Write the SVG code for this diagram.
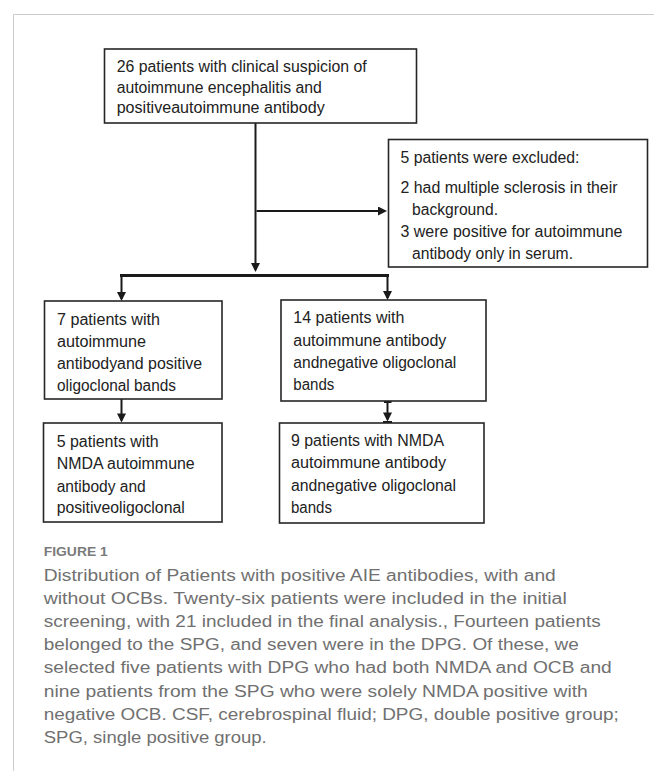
<svg xmlns="http://www.w3.org/2000/svg" width="654" height="771" viewBox="0 0 654 771">
<style>
.frame{fill:none;stroke:#cccccc;stroke-width:1}
.box{fill:#ffffff;stroke:#262626;stroke-width:1.6}
.t{font-family:"Liberation Sans",Arial,sans-serif;font-size:16px;fill:#222222}
.conn{fill:none;stroke:#1a1a1a;stroke-width:2}
.bar{fill:none;stroke:#1a1a1a;stroke-width:3}
.fig{font-family:"Liberation Sans",Arial,sans-serif;font-size:13px;font-weight:bold;fill:#7a7a7a}
.cap{font-family:"Liberation Sans",Arial,sans-serif;font-size:16px;fill:#707070}
</style>
<defs>
<marker id="ah" viewBox="0 0 10 10" refX="7.8" refY="5" markerWidth="9" markerHeight="9" markerUnits="userSpaceOnUse" orient="auto">
<path d="M0,0 L10,5 L0,10 z" fill="#1a1a1a"/>
</marker>
</defs>
<rect width="654" height="771" fill="#ffffff"/>
<path class="frame" d="M13.5,771 V14.5 H654"/>

<g id="connectors">
<path class="conn" d="M255.5,123 V270" marker-end="url(#ah)"/>
<path class="conn" d="M256.5,211 H385" marker-end="url(#ah)"/>
<path class="bar" d="M120,275.5 H389"/>
<path class="conn" d="M121.5,275 V299" marker-end="url(#ah)"/>
<path class="conn" d="M387.5,275 V298" marker-end="url(#ah)"/>
<path class="conn" d="M121.5,399 V420.5" marker-end="url(#ah)"/>
<path class="conn" d="M387.5,401 V419.5" marker-end="url(#ah)"/>
<path class="conn" d="M384,402 H391.5"/>
<path class="conn" d="M383,422 H392"/>
</g>

<g id="node-start">
<rect class="box" x="104.5" y="49" width="312" height="74"/>
<text class="t" x="116.7" y="71.5" textLength="250" lengthAdjust="spacingAndGlyphs">26 patients with clinical suspicion of</text>
<text class="t" x="116.7" y="92.5" textLength="205" lengthAdjust="spacingAndGlyphs">autoimmune encephalitis and</text>
<text class="t" x="116.7" y="113" textLength="208" lengthAdjust="spacingAndGlyphs">positiveautoimmune antibody</text>
</g>

<g id="node-excluded">
<rect class="box" x="388.5" y="139.5" width="259" height="127.5"/>
<text class="t" x="400.5" y="162.5" textLength="179" lengthAdjust="spacingAndGlyphs">5 patients were excluded:</text>
<text class="t" x="400.5" y="193" textLength="217" lengthAdjust="spacingAndGlyphs">2 had multiple sclerosis in their</text>
<text class="t" x="412" y="215" textLength="86" lengthAdjust="spacingAndGlyphs">background.</text>
<text class="t" x="400.5" y="237" textLength="222" lengthAdjust="spacingAndGlyphs">3 were positive for autoimmune</text>
<text class="t" x="412" y="259" textLength="161" lengthAdjust="spacingAndGlyphs">antibody only in serum.</text>
</g>

<g id="node-dpg">
<rect class="box" x="44.5" y="301" width="177.5" height="98"/>
<text class="t" x="57" y="324.5" textLength="103" lengthAdjust="spacingAndGlyphs">7 patients with</text>
<text class="t" x="57" y="346.7" textLength="89" lengthAdjust="spacingAndGlyphs">autoimmune</text>
<text class="t" x="57" y="369" textLength="145" lengthAdjust="spacingAndGlyphs">antibodyand positive</text>
<text class="t" x="57" y="391" textLength="119" lengthAdjust="spacingAndGlyphs">oligoclonal bands</text>
</g>

<g id="node-spg">
<rect class="box" x="281" y="300" width="205" height="101"/>
<text class="t" x="293.3" y="323.3" textLength="111" lengthAdjust="spacingAndGlyphs">14 patients with</text>
<text class="t" x="293.3" y="345.7" textLength="153" lengthAdjust="spacingAndGlyphs">autoimmune antibody</text>
<text class="t" x="293.3" y="367.7" textLength="163" lengthAdjust="spacingAndGlyphs">andnegative oligoclonal</text>
<text class="t" x="293.3" y="390" textLength="41" lengthAdjust="spacingAndGlyphs">bands</text>
</g>

<g id="node-dpg-nmda">
<rect class="box" x="43.5" y="423" width="178.5" height="99"/>
<text class="t" x="56.7" y="446.7" textLength="102" lengthAdjust="spacingAndGlyphs">5 patients with</text>
<text class="t" x="56.7" y="469" textLength="138" lengthAdjust="spacingAndGlyphs">NMDA autoimmune</text>
<text class="t" x="56.7" y="491.7" textLength="89" lengthAdjust="spacingAndGlyphs">antibody and</text>
<text class="t" x="56.7" y="513.3" textLength="128" lengthAdjust="spacingAndGlyphs">positiveoligoclonal</text>
</g>

<g id="node-spg-nmda">
<rect class="box" x="279.5" y="423" width="204.5" height="100"/>
<text class="t" x="291" y="446" textLength="153" lengthAdjust="spacingAndGlyphs">9 patients with NMDA</text>
<text class="t" x="291" y="468.3" textLength="155" lengthAdjust="spacingAndGlyphs">autoimmune antibody</text>
<text class="t" x="291" y="491" textLength="165" lengthAdjust="spacingAndGlyphs">andnegative oligoclonal</text>
<text class="t" x="291" y="512.7" textLength="41" lengthAdjust="spacingAndGlyphs">bands</text>
</g>

<g id="caption">
<text class="fig" x="43.75" y="556" textLength="64" lengthAdjust="spacingAndGlyphs">FIGURE 1</text>
<text class="cap" x="43.75" y="581" textLength="512" lengthAdjust="spacingAndGlyphs">Distribution of Patients with positive AIE antibodies, with and</text>
<text class="cap" x="43.75" y="604.3" textLength="523" lengthAdjust="spacingAndGlyphs">without OCBs. Twenty-six patients were included in the initial</text>
<text class="cap" x="43.75" y="627" textLength="557" lengthAdjust="spacingAndGlyphs">screening, with 21 included in the final analysis., Fourteen patients</text>
<text class="cap" x="43.75" y="650" textLength="535" lengthAdjust="spacingAndGlyphs">belonged to the SPG, and seven were in the DPG. Of these, we</text>
<text class="cap" x="43.75" y="673.3" textLength="568" lengthAdjust="spacingAndGlyphs">selected five patients with DPG who had both NMDA and OCB and</text>
<text class="cap" x="43.75" y="696.7" textLength="544" lengthAdjust="spacingAndGlyphs">nine patients from the SPG who were solely NMDA positive with</text>
<text class="cap" x="43.75" y="720" textLength="575" lengthAdjust="spacingAndGlyphs">negative OCB. CSF, cerebrospinal fluid; DPG, double positive group;</text>
<text class="cap" x="43.75" y="743" textLength="223" lengthAdjust="spacingAndGlyphs">SPG, single positive group.</text>
</g>
</svg>
